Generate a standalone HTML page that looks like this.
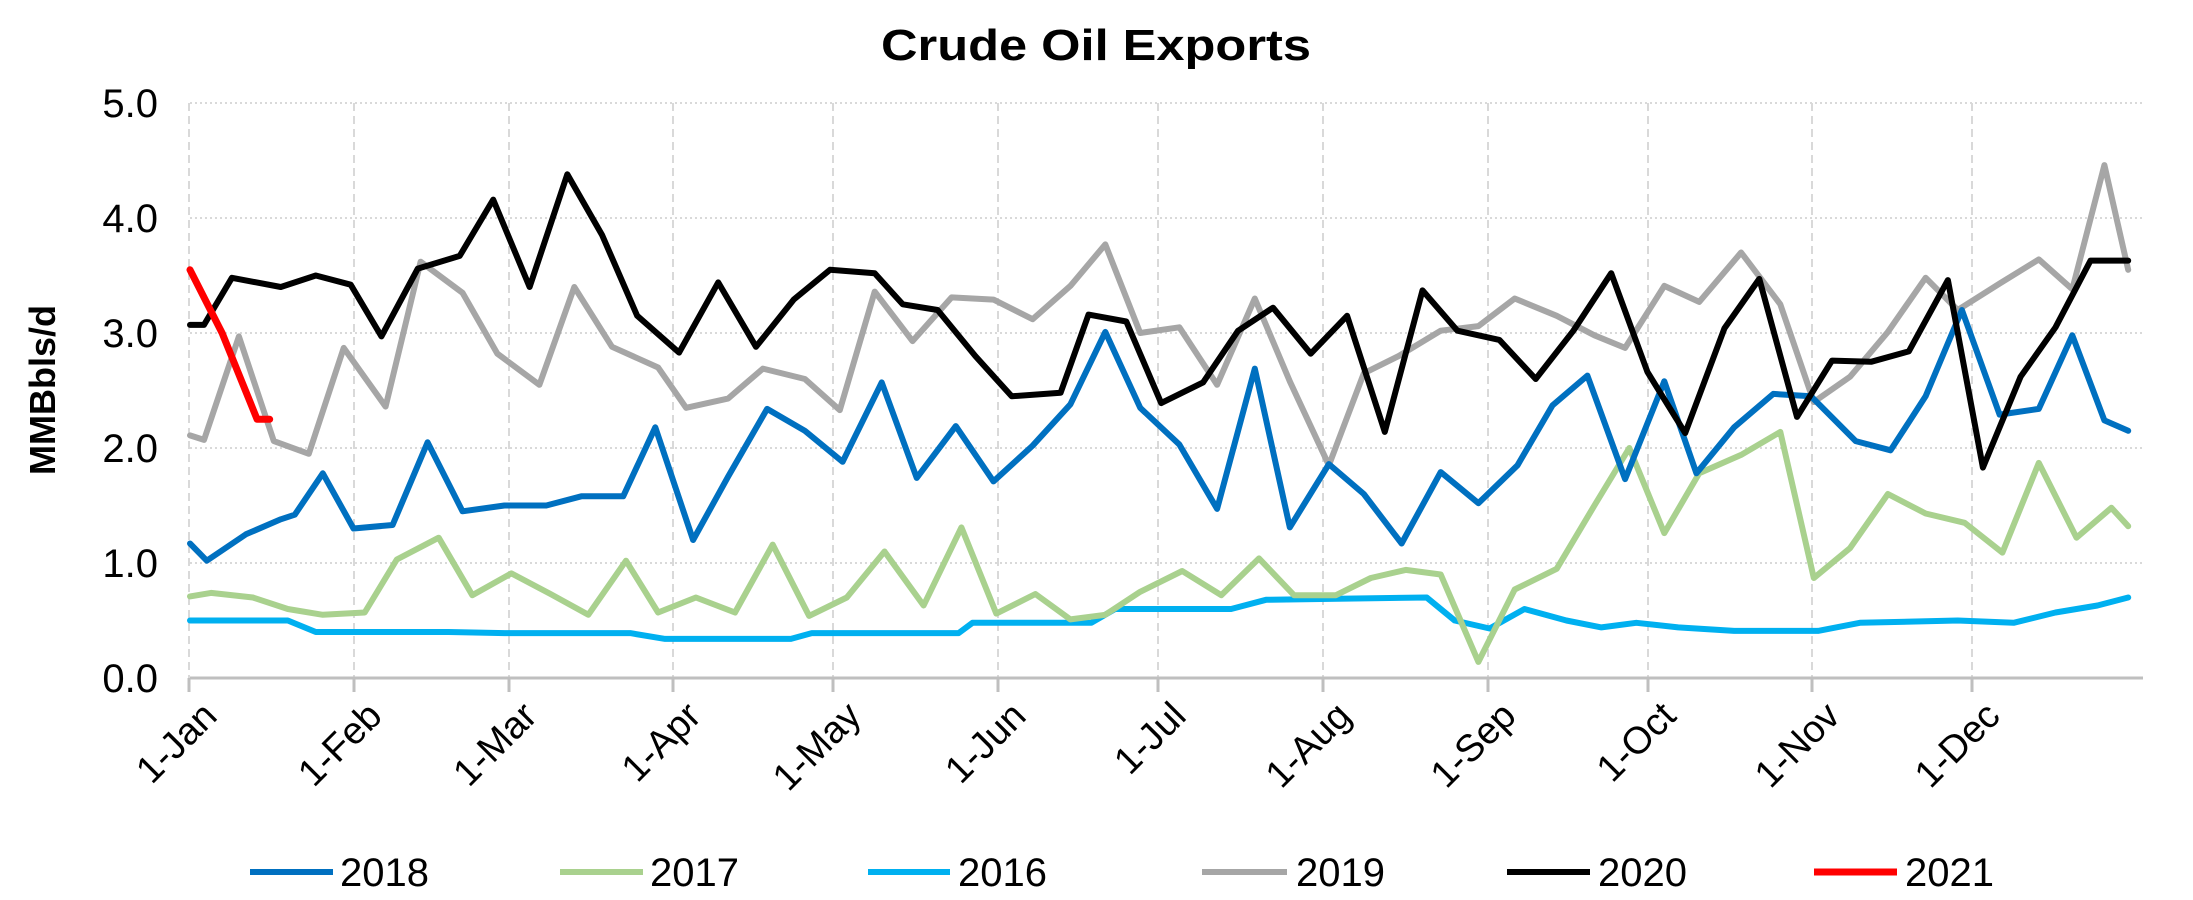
<!DOCTYPE html>
<html><head><meta charset="utf-8"><style>
html,body{margin:0;padding:0;background:#fff;}
svg{display:block;font-family:"Liberation Sans",sans-serif;}
</style></head><body>
<svg id="c" width="2193" height="900" viewBox="0 0 2193 900" xmlns="http://www.w3.org/2000/svg">
<rect width="2193" height="900" fill="#fff"/>
<text x="1096" y="60" font-size="44" font-weight="bold" text-anchor="middle" textLength="430" lengthAdjust="spacingAndGlyphs">Crude Oil Exports</text>
<g id="grid"></g>
<g id="series" fill="none" stroke-linejoin="round" stroke-linecap="round"></g>
<text transform="translate(55,390) rotate(-90)" font-size="36" font-weight="bold" text-anchor="middle">MMBbls/d</text>
<g font-size="40">
<line x1="250" y1="872" x2="333" y2="872" stroke="#0070C0" stroke-width="6"/><text x="340" y="886">2018</text>
<line x1="560" y1="872" x2="643" y2="872" stroke="#A9D18E" stroke-width="6"/><text x="650" y="886">2017</text>
<line x1="868" y1="872" x2="950" y2="872" stroke="#00B0F0" stroke-width="6"/><text x="958" y="886">2016</text>
<line x1="1202" y1="872" x2="1287" y2="872" stroke="#A6A6A6" stroke-width="6"/><text x="1296" y="886">2019</text>
<line x1="1507" y1="872" x2="1590" y2="872" stroke="#000" stroke-width="6"/><text x="1598" y="886">2020</text>
<line x1="1814" y1="872" x2="1897" y2="872" stroke="#FF0000" stroke-width="7"/><text x="1905" y="886">2021</text>
</g>
</svg>
<script>
var NS="http://www.w3.org/2000/svg";
var L=190,R=2143,Y0=678,Y5=103;
function X(xd){return 190+(xd-135)*(1941/1389);}
function Y(v){return Y0-(Y0-Y5)*v/5;}
var g=document.getElementById('grid');
function el(p,t,a){var e=document.createElementNS(NS,t);for(var k in a)e.setAttribute(k,a[k]);p.appendChild(e);return e;}
for(var i=1;i<=5;i++){el(g,'line',{x1:L,x2:R,y1:Y(i),y2:Y(i),stroke:'#d9d9d9','stroke-width':2,'stroke-dasharray':'2 3'});}
var months=[189,354,509,673,833,998,1158,1323,1488,1648,1812,1972];
var names=['Jan','Feb','Mar','Apr','May','Jun','Jul','Aug','Sep','Oct','Nov','Dec'];
months.forEach(function(m,i){
 el(g,'line',{x1:m,x2:m,y1:Y5,y2:Y0,stroke:'#d9d9d9','stroke-width':2,'stroke-dasharray':'8 5'});
 el(g,'line',{x1:m,x2:m,y1:Y0,y2:Y0+14,stroke:'#bfbfbf','stroke-width':3});
 var t=el(g,'text',{transform:'translate('+(m+30)+',718) rotate(-45)','font-size':38,'text-anchor':'end'});t.textContent='1-'+names[i];
});
el(g,'line',{x1:L,x2:R,y1:Y0,y2:Y0,stroke:'#bfbfbf','stroke-width':3});
for(var i=0;i<=5;i++){var t=el(g,'text',{x:158,y:Y(i)+14,'font-size':40,'text-anchor':'end'});t.textContent=i+'.0';}
var S={
'#00B0F0':[[135,0.50],[205,0.50],[225,0.40],[320,0.40],[360,0.39],[450,0.39],[475,0.34],[565,0.34],[580,0.39],[685,0.39],[695,0.48],[780,0.48],[797,0.60],[880,0.60],[905,0.68],[1020,0.70],[1040,0.50],[1065,0.43],[1090,0.60],[1120,0.50],[1145,0.44],[1170,0.48],[1200,0.44],[1240,0.41],[1300,0.41],[1330,0.48],[1400,0.50],[1440,0.48],[1470,0.57],[1500,0.63],[1522,0.70]],
'#A9D18E':[[135,0.71],[150,0.74],[180,0.70],[205,0.60],[230,0.55],[260,0.57],[283,1.03],[313,1.22],[337,0.72],[365,0.91],[393,0.73],[420,0.55],[447,1.02],[470,0.57],[497,0.70],[525,0.57],[552,1.16],[578,0.54],[605,0.70],[632,1.10],[660,0.63],[687,1.31],[712,0.56],[740,0.73],[765,0.51],[790,0.55],[815,0.75],[845,0.93],[873,0.72],[900,1.04],[925,0.72],[955,0.72],[980,0.87],[1005,0.94],[1030,0.90],[1057,0.14],[1083,0.77],[1113,0.95],[1140,1.50],[1165,2.00],[1190,1.26],[1215,1.78],[1245,1.94],[1273,2.14],[1297,0.87],[1323,1.13],[1350,1.60],[1377,1.43],[1405,1.35],[1432,1.09],[1458,1.87],[1485,1.22],[1510,1.48],[1522,1.32]],
'#A6A6A6':[[135,2.11],[145,2.07],[170,2.97],[195,2.06],[220,1.95],[245,2.87],[275,2.36],[300,3.62],[330,3.35],[355,2.82],[385,2.55],[410,3.40],[437,2.88],[470,2.70],[490,2.35],[520,2.43],[545,2.69],[575,2.60],[600,2.33],[625,3.36],[652,2.93],[680,3.31],[710,3.29],[738,3.12],[765,3.41],[790,3.77],[815,3.00],[843,3.05],[870,2.55],[897,3.30],[922,2.58],[950,1.85],[975,2.65],[1000,2.80],[1030,3.02],[1057,3.06],[1083,3.30],[1113,3.15],[1140,2.98],[1162,2.87],[1190,3.41],[1215,3.27],[1245,3.70],[1273,3.25],[1297,2.40],[1323,2.62],[1350,3.01],[1377,3.48],[1400,3.20],[1430,3.43],[1458,3.64],[1482,3.38],[1505,4.46],[1522,3.55]],
'#0070C0':[[135,1.17],[147,1.02],[175,1.25],[200,1.38],[210,1.42],[230,1.78],[252,1.30],[280,1.33],[305,2.05],[330,1.45],[360,1.50],[390,1.50],[415,1.58],[445,1.58],[468,2.18],[495,1.20],[520,1.75],[548,2.34],[575,2.15],[602,1.88],[630,2.57],[655,1.74],[683,2.19],[710,1.71],[738,2.02],[765,2.38],[790,3.01],[815,2.35],[843,2.03],[870,1.47],[897,2.69],[922,1.31],[950,1.86],[975,1.60],[1002,1.17],[1030,1.79],[1057,1.52],[1085,1.85],[1110,2.37],[1135,2.63],[1162,1.73],[1190,2.58],[1213,1.78],[1240,2.18],[1268,2.47],[1295,2.45],[1327,2.06],[1352,1.98],[1377,2.45],[1403,3.20],[1430,2.29],[1458,2.34],[1482,2.98],[1505,2.24],[1522,2.15]],
'#000000':[[135,3.07],[145,3.07],[165,3.48],[200,3.40],[225,3.50],[250,3.42],[272,2.97],[298,3.56],[328,3.67],[352,4.16],[378,3.40],[405,4.38],[430,3.85],[455,3.15],[485,2.83],[513,3.44],[540,2.88],[567,3.29],[593,3.55],[625,3.52],[645,3.25],[670,3.20],[697,2.80],[723,2.45],[758,2.48],[778,3.16],[805,3.10],[830,2.39],[860,2.57],[885,3.02],[910,3.22],[937,2.82],[963,3.15],[990,2.14],[1017,3.37],[1042,3.02],[1072,2.94],[1098,2.60],[1125,3.02],[1152,3.52],[1178,2.66],[1205,2.13],[1233,3.04],[1258,3.47],[1285,2.27],[1310,2.76],[1338,2.75],[1365,2.84],[1393,3.46],[1418,1.83],[1445,2.62],[1470,3.05],[1495,3.63],[1522,3.63]],
'#FF0000':[[135,3.55],[158,3.00],[183,2.25],[192,2.25]]
};
var sg=document.getElementById('series');
for(var c in S){var d=S[c].map(function(p,i){return (i?'L':'M')+X(p[0]).toFixed(1)+','+Y(p[1]).toFixed(1);}).join('');
 el(sg,'path',{d:d,stroke:c,'stroke-width':c=='#FF0000'?7:6});}
</script>
</body></html>
